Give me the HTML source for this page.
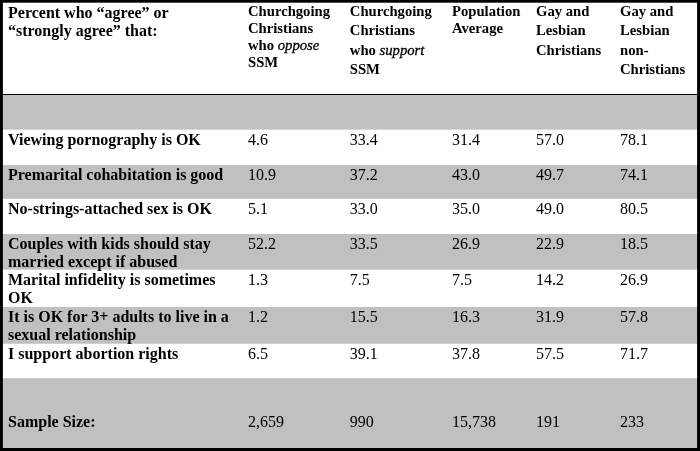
<!DOCTYPE html>
<html><head><meta charset="utf-8"><title>Table</title>
<style>
html,body{margin:0;padding:0;background:#fff;}
body{width:700px;height:451px;position:relative;overflow:hidden;font-family:"Liberation Serif","Times New Roman",serif;font-size:16px;line-height:18px;color:#000;}
.t{position:absolute;white-space:nowrap;}
.l{left:8px;font-weight:bold;}
.h{font-weight:bold;font-size:14.67px;line-height:16.9px;top:3px;}
.h i{font-weight:normal;-webkit-text-stroke:0.3px #000;}
.w{line-height:19.3px;top:1.8px;}
.w u{text-decoration:none;position:relative;top:1px;}
.c2{left:248px}.c3{left:349.8px}.c4{left:452px}.c5{left:536px}.c6{left:620px}
</style></head><body>
<svg width="700" height="451" viewBox="0 0 700 451" style="position:absolute;left:0;top:0">
<g fill="#c0c0c0">
<rect x="0" y="95" width="700" height="34.6"/>
<rect x="0" y="165.1" width="700" height="33.7"/>
<rect x="0" y="234" width="700" height="35.65"/>
<rect x="0" y="307" width="700" height="36.75"/>
<rect x="0" y="378.2" width="700" height="70"/>
</g>
<g fill="#000">
<rect x="0" y="94" width="700" height="1"/>
<rect x="0" y="0" width="700" height="2.7"/>
<rect x="0" y="448" width="700" height="3"/>
<rect x="0" y="0" width="2.9" height="451"/>
<rect x="697.1" y="0" width="2.9" height="451"/>
</g>
</svg>

<div class="t l" style="top:4px">Percent who “agree” or<br>“strongly agree” that:</div>
<div class="t h c2">Churchgoing<br>Christians<br>who <i>oppose</i><br>SSM</div>
<div class="t h w c3">Churchgoing<br>Christians<br><u>who <i>support</i></u><br>SSM</div>
<div class="t h c4">Population<br>Average</div>
<div class="t h w c5">Gay and<br>Lesbian<br><u>Christians</u></div>
<div class="t h w c6">Gay and<br>Lesbian<br><u>non-</u><br>Christians</div>

<div class="t l" style="top:131px">Viewing pornography is OK</div>
<div class="t c2" style="top:131px">4.6</div><div class="t c3" style="top:131px">33.4</div><div class="t c4" style="top:131px">31.4</div><div class="t c5" style="top:131px">57.0</div><div class="t c6" style="top:131px">78.1</div>

<div class="t l" style="top:166px">Premarital cohabitation is good</div>
<div class="t c2" style="top:166px">10.9</div><div class="t c3" style="top:166px">37.2</div><div class="t c4" style="top:166px">43.0</div><div class="t c5" style="top:166px">49.7</div><div class="t c6" style="top:166px">74.1</div>

<div class="t l" style="top:200px">No-strings-attached sex is OK</div>
<div class="t c2" style="top:200px">5.1</div><div class="t c3" style="top:200px">33.0</div><div class="t c4" style="top:200px">35.0</div><div class="t c5" style="top:200px">49.0</div><div class="t c6" style="top:200px">80.5</div>

<div class="t l" style="top:235px">Couples with kids should stay<br>married except if abused</div>
<div class="t c2" style="top:235px">52.2</div><div class="t c3" style="top:235px">33.5</div><div class="t c4" style="top:235px">26.9</div><div class="t c5" style="top:235px">22.9</div><div class="t c6" style="top:235px">18.5</div>

<div class="t l" style="top:271px">Marital infidelity is sometimes<br>OK</div>
<div class="t c2" style="top:271px">1.3</div><div class="t c3" style="top:271px">7.5</div><div class="t c4" style="top:271px">7.5</div><div class="t c5" style="top:271px">14.2</div><div class="t c6" style="top:271px">26.9</div>

<div class="t l" style="top:308px">It is OK for 3+ adults to live in a<br>sexual relationship</div>
<div class="t c2" style="top:308px">1.2</div><div class="t c3" style="top:308px">15.5</div><div class="t c4" style="top:308px">16.3</div><div class="t c5" style="top:308px">31.9</div><div class="t c6" style="top:308px">57.8</div>

<div class="t l" style="top:345px">I support abortion rights</div>
<div class="t c2" style="top:345px">6.5</div><div class="t c3" style="top:345px">39.1</div><div class="t c4" style="top:345px">37.8</div><div class="t c5" style="top:345px">57.5</div><div class="t c6" style="top:345px">71.7</div>

<div class="t l" style="top:413px">Sample Size:</div>
<div class="t c2" style="top:413px">2,659</div><div class="t c3" style="top:413px">990</div><div class="t c4" style="top:413px">15,738</div><div class="t c5" style="top:413px">191</div><div class="t c6" style="top:413px">233</div>
</body></html>
